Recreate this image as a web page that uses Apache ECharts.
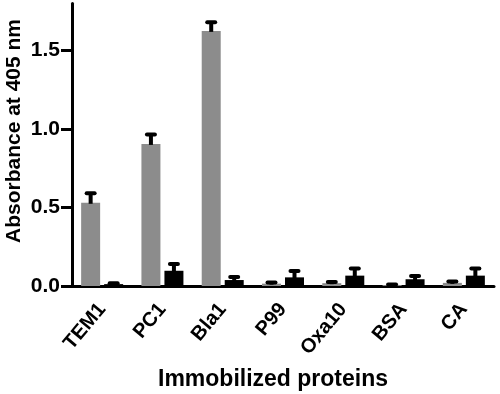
<!DOCTYPE html>
<html>
<head>
<meta charset="utf-8">
<script src="https://cdn.jsdelivr.net/npm/echarts@6/dist/echarts.min.js"></script>
<style>html,body{margin:0;padding:0;background:#fff}#c{width:500px;height:394px}</style>
</head>
<body>
<div id="c"></div>
<script>
const categories = ['TEM1', 'PC1', 'Bla1', 'P99', 'Oxa10', 'BSA', 'CA'];
const grayValues = [0.53, 0.905, 1.625, 0.015, 0.018, 0.006, 0.02];
const grayErrors = [0.06, 0.06, 0.055, 0.008, 0.008, 0.003, 0.008];
const blackValues = [0.012, 0.097, 0.038, 0.055, 0.066, 0.043, 0.066];
const blackErrors = [0.006, 0.043, 0.02, 0.04, 0.045, 0.02, 0.045];
const yTickValues = [0, 0.5, 1.0, 1.5];

const FONT = '"Liberation Sans", Arial, sans-serif';
const BAR_W = 19;
const GAP = 4;

function errSeries(values, errors, sign) {
  return {
    type: 'custom',
    z: 5,
    data: values.map((v, i) => [i, v, errors[i]]),
    renderItem: function (params, api) {
      const i = api.value(0), v = api.value(1), e = api.value(2);
      const base = api.coord([i, v]);
      const top = api.coord([i, v + e]);
      const x = base[0] + sign * (BAR_W + GAP) / 2;
      return {
        type: 'group',
        children: [
          { type: 'line', shape: { x1: x, y1: base[1] + 1, x2: x, y2: top[1] },
            style: { stroke: '#000', lineWidth: 4 } },
          { type: 'line', shape: { x1: x - 4, y1: top[1], x2: x + 4, y2: top[1] },
            style: { stroke: '#000', lineWidth: 4, lineCap: 'round' } }
        ]
      };
    }
  };
}

const chart = echarts.init(document.getElementById('c'), null, { renderer: 'canvas' });
chart.setOption({
  animation: false,
  grid: { left: 72, right: 6, top: 3.4, bottom: 108, containLabel: false },
  xAxis: {
    type: 'category',
    data: categories,
    axisLine: { lineStyle: { color: '#000', width: 3 } },
    axisTick: { alignWithLabel: true, length: 8, lineStyle: { color: '#000', width: 3 } },
    axisLabel: { rotate: 50, interval: 0, margin: 20, color: '#000', fontSize: 20, fontWeight: 'bold', fontFamily: FONT },
    splitLine: { show: false }
  },
  yAxis: {
    type: 'value',
    min: 0, max: 1.8, interval: 0.5,
    axisLine: { show: true, lineStyle: { color: '#000', width: 3 } },
    axisTick: { show: true, length: 11, customValues: yTickValues, lineStyle: { color: '#000', width: 3 } },
    axisLabel: { customValues: yTickValues, margin: 12, color: '#000', fontSize: 21, fontWeight: 'bold', fontFamily: FONT,
      formatter: v => Number(v).toFixed(1) },
    splitLine: { show: false }
  },
  series: [
    { type: 'bar', data: grayValues, barWidth: BAR_W, barGap: (GAP / BAR_W * 100) + '%',
      itemStyle: { color: '#8c8c8c' } },
    { type: 'bar', data: blackValues, barWidth: BAR_W,
      itemStyle: { color: '#000' } },
    errSeries(grayValues, grayErrors, -1),
    errSeries(blackValues, blackErrors, 1)
  ],
  graphic: [
    { type: 'text', x: 14, y: 131, rotation: Math.PI / 2,
      style: { text: 'Absorbance at 405 nm', fill: '#000', font: 'bold 21px ' + FONT, align: 'center', verticalAlign: 'middle' } },
    { type: 'text', x: 273, y: 380,
      style: { text: 'Immobilized proteins', fill: '#000', font: 'bold 23px ' + FONT, align: 'center', verticalAlign: 'middle' } }
  ]
});
</script>
</body>
</html>
